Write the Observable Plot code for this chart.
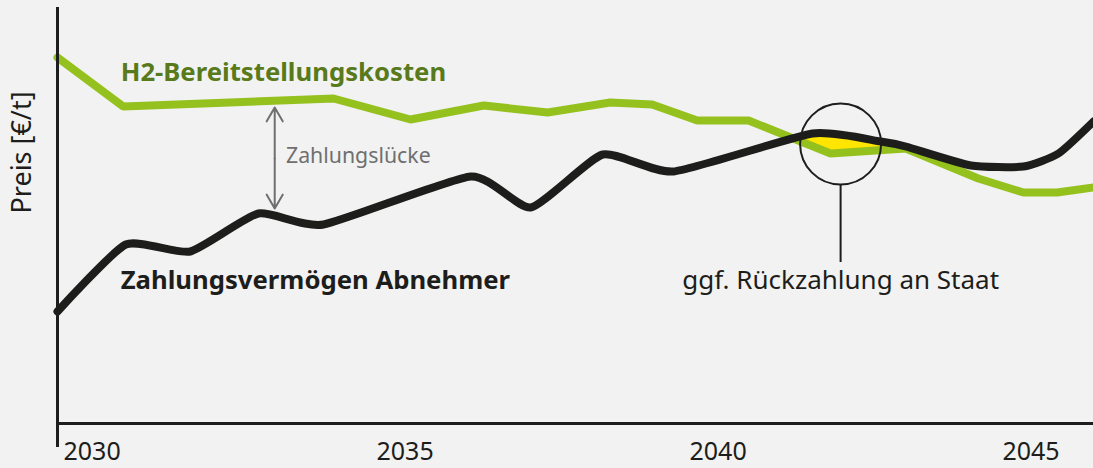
<!DOCTYPE html>
<html>
<head>
<meta charset="utf-8">
<script src="https://cdn.jsdelivr.net/npm/d3@7"></script>
<script src="https://cdn.jsdelivr.net/npm/@observablehq/plot@0.6"></script>
<style>
  html, body { margin: 0; padding: 0; background: #f2f2f2; }
  #chart svg { display: block; }
</style>
</head>
<body>
<div id="chart"></div>
<script>
// ---- data (arbitrary price units) ----
const greenYears  = [2030.0, 2031.05, 2034.41, 2035.64, 2036.81, 2037.83, 2038.83, 2039.50, 2040.22, 2041.04, 2042.35, 2043.55, 2044.71, 2045.43, 2045.97, 2046.55];
const greenValues = [366, 317, 325, 304, 318, 311, 321, 319, 303, 303, 270, 275, 245, 231, 231, 236];
const blackYears  = [2030.0, 2031.09, 2032.12, 2033.21, 2034.25, 2036.60, 2037.56, 2038.71, 2039.84, 2042.06, 2043.15, 2043.55, 2044.59, 2045.43, 2045.99, 2046.55];
const blackValues = [112, 179, 172, 210, 199, 247, 216, 269, 252, 290, 282, 277, 258, 257, 270, 302];
const tickYears = [2030, 2035, 2040, 2045];
const seriesNames = ["H2-Bereitstellungskosten", "Zahlungsvermögen Abnehmer"];
const gapLabel = "Zahlungslücke";
const refundLabel = "ggf. Rückzahlung an Staat";
const yLabel = "Preis [€/t]";

const green = greenYears.map((x, i) => ({x, y: greenValues[i]}));
const black = blackYears.map((x, i) => ({x, y: blackValues[i]}));

function interp(series, x) {
  for (let i = 0; i < series.length - 1; i++) {
    const a = series[i], b = series[i + 1];
    if (x >= a.x && x <= b.x) return a.y + (b.y - a.y) * (x - a.x) / (b.x - a.x);
  }
  return NaN;
}
const fillYears = d3.range(2041.4, 2044.2, 0.01);
const gap = fillYears.map(x => {
  const g = interp(green, x), b = interp(black, x);
  return {x, g, b: Math.max(g, b)};
});

const FONT = "'Noto Sans', sans-serif";
const DARK = "#1d1d1b";

const chart = Plot.plot({
  width: 1093,
  height: 468,
  marginLeft: 57,
  marginRight: 0,
  marginTop: 3,
  marginBottom: 45,
  x: {domain: [2030, 2046.55], axis: null},
  y: {domain: [0, 420], axis: null},
  style: {background: "#f2f2f2", fontFamily: FONT},
  marks: [
    Plot.areaY(gap, {x: "x", y1: "g", y2: "b", fill: "#ffe500"}),
    Plot.line(green, {x: "x", y: "y", stroke: "#95c11f", strokeWidth: 8, strokeLinejoin: "miter"}),
    Plot.line(black, {x: "x", y: "y", stroke: DARK, strokeWidth: 8, curve: "cardinal", tension: 0.45}),
    // axes lines
    Plot.ruleY([0], {stroke: DARK, strokeWidth: 3}),
    Plot.ruleX([2030], {y1: -24, y2: 416, stroke: DARK, strokeWidth: 3}),
    Plot.axisX(tickYears, {tickSize: 0, tickPadding: 19, lineAnchor: "top", textAnchor: "start", dx: 6, fontSize: 25, fill: DARK, tickFormat: d => String(d), label: null}),
    // y label
    Plot.text([yLabel], {x: 2030, y: 271, dx: -35, rotate: -90, textAnchor: "middle", fontSize: 27, fill: DARK}),
    // series labels
    Plot.text([seriesNames[0]], {x: 2031.01, y: 351, textAnchor: "start", fontSize: 25.7, fontWeight: "bold", fill: "#587a1b"}),
    Plot.text([seriesNames[1]], {x: 2031.01, y: 143, textAnchor: "start", fontSize: 25.7, fontWeight: "bold", fill: DARK}),
    // gap arrow
    Plot.arrow([{y1: 265, y2: 316}, {y1: 265, y2: 215}], {x: 2033.47, y1: "y1", y2: "y2", stroke: "#6f6f6f", strokeWidth: 2, headLength: 12}),
    Plot.text([gapLabel], {x: 2033.65, y: 267, textAnchor: "start", fontSize: 21.3, fill: "#6f6f6f"}),
    // refund annotation
    Plot.dot([{x: 2042.51, y: 279.5}], {x: "x", y: "y", r: 40.5, stroke: DARK, strokeWidth: 2, fill: "none"}),
    Plot.ruleX([2042.51], {y1: 239, y2: 161, stroke: DARK, strokeWidth: 2}),
    Plot.text([refundLabel], {x: 2042.51, y: 143, textAnchor: "middle", fontSize: 26, fill: DARK})
  ]
});
document.getElementById("chart").append(chart);
</script>
</body>
</html>
